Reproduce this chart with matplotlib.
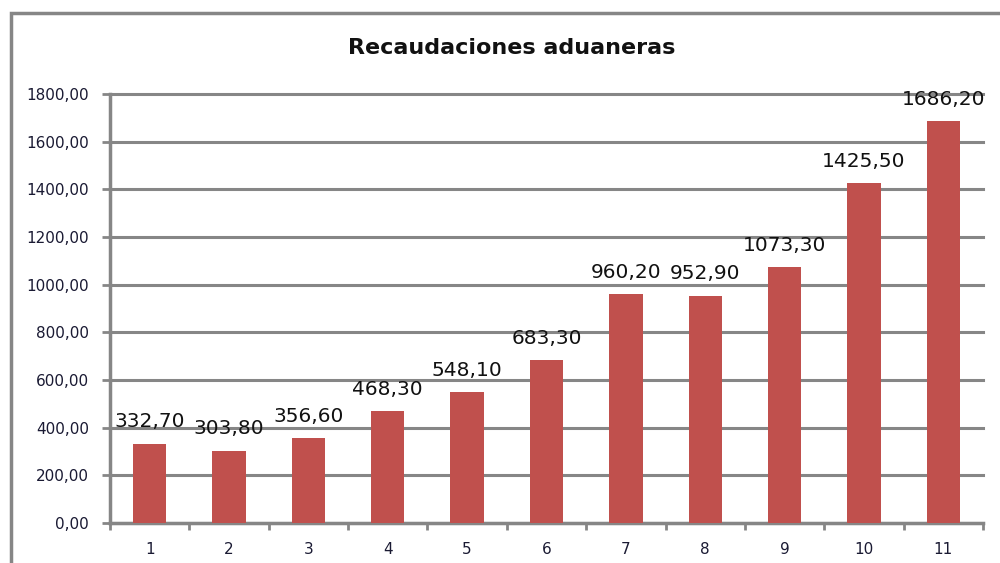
import matplotlib
matplotlib.use("Agg")
from matplotlib import pyplot as plt
from matplotlib.patches import Rectangle

# data
categories = ['1', '2', '3', '4', '5', '6', '7', '8', '9', '10', '11']
values = [332.70, 303.80, 356.60, 468.30, 548.10, 683.30, 960.20, 952.90, 1073.30, 1425.50, 1686.20]
y_ticks = [0, 200, 400, 600, 800, 1000, 1200, 1400, 1600, 1800]

grid_color = '#868686'
bar_color = '#C0504D'

fig = plt.figure(figsize=(10, 5.63), dpi=100)

# outer chart frame (only left and top visible in the picture)
frame = Rectangle((0.011, -0.1), 1.2, 1.077, transform=fig.transFigure,
                  fill=False, edgecolor=grid_color, linewidth=2.5, clip_on=False)
fig.patches.append(frame)

ax = fig.add_axes([0.110, 0.071, 0.873, 0.762])

x = list(range(len(categories)))
bars = ax.bar(x, values, width=0.42, color=bar_color, zorder=3)

for xi, v in zip(x, values):
    ax.annotate('{:.2f}'.format(v).replace('.', ','), (xi, v), xytext=(0, 9),
                textcoords='offset points', ha='center', va='bottom',
                fontsize=14.5, color='#111111', zorder=4)

ax.set_xlim(-0.5, len(categories) - 0.5)
ax.set_ylim(0, 1800)
ax.set_yticks(y_ticks)
ax.set_yticklabels(['{:.2f}'.format(t).replace('.', ',') for t in y_ticks])
ax.set_xticks(x)
ax.set_xticklabels(categories)
ax.set_xticks([i - 0.5 for i in range(len(categories) + 1)], minor=True)
ax.tick_params(axis='x', which='major', length=0, pad=14, labelsize=11, labelcolor='#1a1a33')
ax.tick_params(axis='x', which='minor', length=5, width=2, color=grid_color)
ax.tick_params(axis='y', length=6, width=2, color=grid_color, labelsize=11,
               labelcolor='#1a1a33', pad=9)

ax.yaxis.grid(True, color=grid_color, linewidth=2.2, zorder=0)
for gl in ax.get_ygridlines():
    gl.set_clip_on(False)
ax.set_axisbelow(True)
for side in ['top', 'right']:
    ax.spines[side].set_visible(False)
for side in ['left', 'bottom']:
    ax.spines[side].set_color(grid_color)
    ax.spines[side].set_linewidth(2.5)

fig.text(0.512, 0.914, 'Recaudaciones aduaneras', ha='center', va='center',
         fontsize=16, fontweight='bold', color='#111111')

plt.savefig('out.png', dpi=100)
